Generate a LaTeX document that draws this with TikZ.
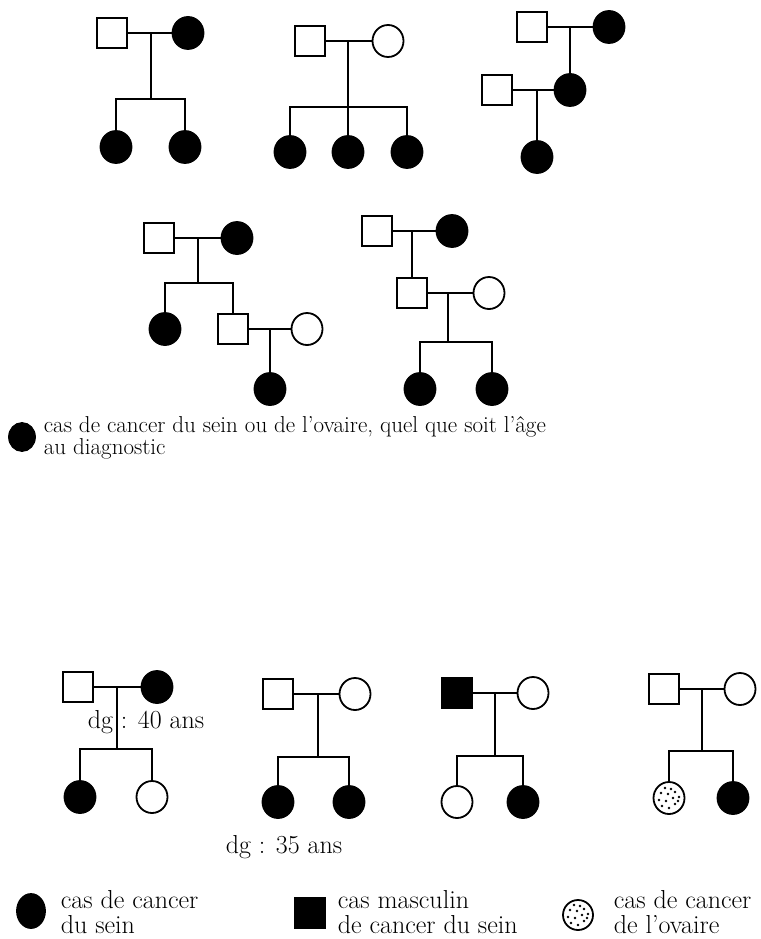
\documentclass[tikz,border=0pt]{standalone}
\usepackage{fontspec}
\usetikzlibrary{shapes.geometric}
\tikzset{
  male/.style={draw, rectangle, minimum size=30pt, inner sep=0pt},
  female/.style={draw, ellipse, minimum width=31pt, minimum height=32pt, inner sep=0pt},
  affected/.style={fill=black},
  ovary/.style={path picture={
      \foreach \dx/\dy in {-7/-8,0/-10,6/-6,-10/-2,-3/-3,4/0,10/1,-8/5,-1/4,6/6,-4/10,2/9,9/-3}
        \fill ([shift={(\dx pt,\dy pt)}]path picture bounding box.center) circle (1.3pt);}},
  legendtext/.style={anchor=west, align=left, inner sep=0pt, font=\fontsize{23}{20}\selectfont},
  legendtextb/.style={anchor=west, align=left, inner sep=0pt, font=\fontsize{26}{25}\selectfont},
  dgtext/.style={inner sep=0pt, font=\fontsize{26}{26}\selectfont}
}
\begin{document}
\begin{tikzpicture}[x=1pt, y=-1pt, line width=1.8pt]
  \useasboundingbox (0,0) rectangle (760,939);

  % first family
  \node[male] (p1f) at (112,33) {};
  \node[female, affected] (p1m) at (188,33) {};
  \coordinate (p1j) at (151,33);
  \coordinate (p1b) at (151,99);
  \node[female, affected] (p1c1) at (116,147) {};
  \node[female, affected] (p1c2) at (185,147) {};
  \draw (p1f) -- (p1m);
  \draw (p1j) -- (p1b);
  \draw (p1c1.north) |- (p1b) -| (p1c2.north);

  % second family
  \node[male] (p2f) at (310,41) {};
  \node[female] (p2m) at (388,41) {};
  \coordinate (p2j) at (348,41);
  \coordinate (p2b) at (348,107);
  \node[female, affected] (p2c1) at (290,152) {};
  \node[female, affected] (p2c2) at (348,152) {};
  \node[female, affected] (p2c3) at (407,152) {};
  \draw (p2f) -- (p2m);
  \draw (p2j) -- (p2c2.north);
  \draw (p2c1.north) |- (p2b) -| (p2c3.north);

  % third family
  \node[male] (p3f) at (532,27) {};
  \node[female, affected] (p3m) at (609,27) {};
  \coordinate (p3j) at (570,27);
  \node[female, affected] (p3d) at (570,90) {};
  \node[male] (p3h) at (497,90) {};
  \coordinate (p3k) at (537,90);
  \node[female, affected] (p3g) at (537,157) {};
  \draw (p3f) -- (p3m);
  \draw (p3j) -- (p3d.north);
  \draw (p3h) -- (p3d);
  \draw (p3k) -- (p3g.north);

  % fourth family
  \node[male] (p4f) at (159,238) {};
  \node[female, affected] (p4m) at (237,238) {};
  \coordinate (p4j) at (198,238);
  \coordinate (p4b) at (198,283);
  \node[female, affected] (p4c1) at (165,329) {};
  \node[male] (p4c2) at (233,329) {};
  \node[female] (p4w) at (307,329) {};
  \coordinate (p4k) at (270,329);
  \node[female, affected] (p4g) at (270,389) {};
  \draw (p4f) -- (p4m);
  \draw (p4j) -- (p4b);
  \draw (p4c1.north) |- (p4b) -| (p4c2.north);
  \draw (p4c2) -- (p4w);
  \draw (p4k) -- (p4g.north);

  % fifth family
  \node[male] (p5f) at (377,231) {};
  \node[female, affected] (p5m) at (452,231) {};
  \coordinate (p5j) at (412,231);
  \node[male] (p5s) at (412,293) {};
  \node[female] (p5w) at (489,293) {};
  \coordinate (p5k) at (448,293);
  \coordinate (p5b) at (448,342);
  \node[female, affected] (p5c1) at (420,389) {};
  \node[female, affected] (p5c2) at (492,389) {};
  \draw (p5f) -- (p5m);
  \draw (p5j) -- (p5s.north);
  \draw (p5s) -- (p5w);
  \draw (p5k) -- (p5b);
  \draw (p5c1.north) |- (p5b) -| (p5c2.north);

  % legend 1
  \node[female, affected, minimum width=26pt, minimum height=28pt] (lg1) at (22,437) {};
  \node[legendtext] (lg1t) at (43,438) {cas de cancer du sein ou de l'ovaire, quel que soit l'âge\\au diagnostic};

  % sixth family
  \node[dgtext] (dg40) at (146,722) {dg : 40 ans};
  \node[male] (p6f) at (78,687) {};
  \node[female, affected] (p6m) at (157,687) {};
  \coordinate (p6j) at (117,687);
  \coordinate (p6b) at (117,749);
  \node[female, affected] (p6c1) at (80,797) {};
  \node[female] (p6c2) at (152,797) {};
  \draw (p6f) -- (p6m);
  \draw (p6j) -- (p6b);
  \draw (p6c1.north) |- (p6b) -| (p6c2.north);

  % seventh family
  \node[male] (p7f) at (278,694) {};
  \node[female] (p7m) at (355,694) {};
  \coordinate (p7j) at (318,694);
  \coordinate (p7b) at (318,757);
  \node[female, affected] (p7c1) at (278,802) {};
  \node[female, affected] (p7c2) at (349,802) {};
  \node[dgtext] (dg35) at (284,847) {dg : 35 ans};
  \draw (p7f) -- (p7m);
  \draw (p7j) -- (p7b);
  \draw (p7c1.north) |- (p7b) -| (p7c2.north);

  % eighth family
  \node[male, affected] (p8f) at (457,693) {};
  \node[female] (p8m) at (533,693) {};
  \coordinate (p8j) at (495,693);
  \coordinate (p8b) at (495,756);
  \node[female] (p8c1) at (457,802) {};
  \node[female, affected] (p8c2) at (523,802) {};
  \draw (p8f) -- (p8m);
  \draw (p8j) -- (p8b);
  \draw (p8c1.north) |- (p8b) -| (p8c2.north);

  % ninth family
  \node[male] (p9f) at (664,689) {};
  \node[female] (p9m) at (740,689) {};
  \coordinate (p9j) at (702,689);
  \coordinate (p9b) at (702,751);
  \node[female, ovary] (p9c1) at (669,798) {};
  \node[female, affected] (p9c2) at (733,798) {};
  \draw (p9f) -- (p9m);
  \draw (p9j) -- (p9b);
  \draw (p9c1.north) |- (p9b) -| (p9c2.north);

  % legend 2
  \node[female, affected, minimum width=28pt, minimum height=34pt] (lg2) at (31,911) {};
  \node[legendtextb] (lg2t) at (60,912) {cas de cancer\\du sein};
  \node[male, affected, minimum size=30pt] (lg3) at (310,913) {};
  \node[legendtextb] (lg3t) at (337,912) {cas masculin\\de cancer du sein};
  \node[female, ovary, minimum width=30pt, minimum height=30pt] (lg4) at (578,915) {};
  \node[legendtextb] (lg4t) at (613,912) {cas de cancer\\de l'ovaire};
\end{tikzpicture}
\end{document}
